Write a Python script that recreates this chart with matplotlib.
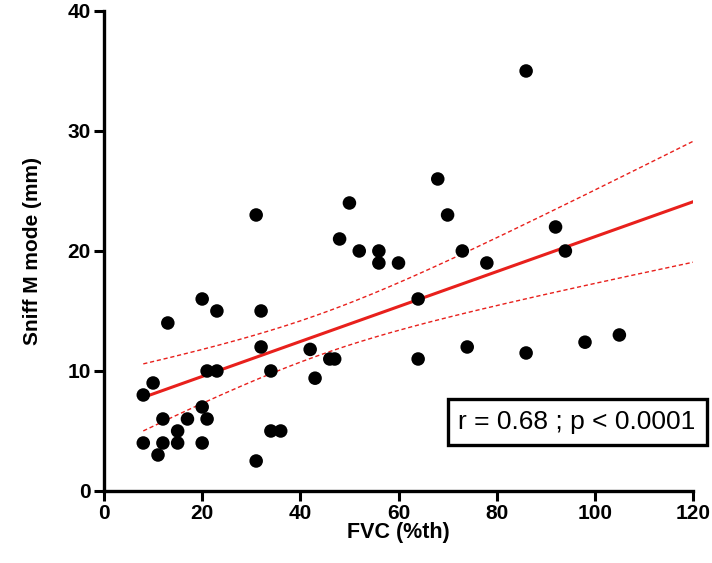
import numpy as np
import matplotlib
matplotlib.use("Agg")
import matplotlib.pyplot as plt
from matplotlib.patches import Rectangle

plt.rcParams["font.family"] = ["Liberation Sans", "DejaVu Sans"]

# FVC (% theoretical) and sniff M-mode excursion (mm)
fvc = [8, 10, 8, 11, 12, 12, 13, 15, 15, 17, 20, 20, 20, 21, 21, 23, 23,
       31, 31, 32, 32, 34, 34, 36, 42, 43, 46, 47, 48, 50, 52, 56, 56, 60,
       64, 64, 68, 70, 73, 74, 78, 86, 86, 92, 94, 98, 105]
sniff = [8, 9, 4, 3, 4, 6, 14, 5, 4, 6, 16, 7, 4, 10, 6, 15, 10,
         23, 2.5, 15, 12, 10, 5, 5, 11.8, 9.4, 11, 11, 21, 24, 20, 20, 19, 19,
         16, 11, 26, 23, 20, 12, 19, 35, 11.5, 22, 20, 12.4, 13]

# regression line as drawn in the figure (value at both ends)
fit_x = [8, 120]
fit_y = [7.8, 24.1]
stats_text = "r = 0.68 ; p < 0.0001"

x = np.asarray(fvc, dtype=float)
y = np.asarray(sniff, dtype=float)

slope = (fit_y[1] - fit_y[0]) / (fit_x[1] - fit_x[0])
intercept = fit_y[0] - slope * fit_x[0]

# 95% confidence band of the mean around that line
n = len(x)
resid = y - (slope * x + intercept)
s_err = np.sqrt(np.sum(resid ** 2) / (n - 2))
t_val = 2.014
xs = np.linspace(fit_x[0], fit_x[1], 200)
ys = slope * xs + intercept
half = t_val * s_err * np.sqrt(1 / n + (xs - x.mean()) ** 2 / np.sum((x - x.mean()) ** 2))

fig = plt.figure(figsize=(7.12, 5.63), dpi=100)
ax = fig.add_axes([0.1461, 0.1279, 0.8272, 0.8526])

red = "#e8201c"
ax.plot(xs, ys, color=red, linewidth=2.2, zorder=2)
ax.plot(xs, ys + half, color=red, linewidth=1.0, linestyle=(0, (3, 2)), zorder=2)
ax.plot(xs, ys - half, color=red, linewidth=1.0, linestyle=(0, (3, 2)), zorder=2)
ax.scatter(x, y, s=95, color="black", edgecolors="none", zorder=3)

ax.set_xlim(0, 120)
ax.set_ylim(0, 40)
ax.set_xticks(range(0, 121, 20))
ax.set_yticks(range(0, 41, 10))
for side in ("top", "right"):
    ax.spines[side].set_visible(False)
for side in ("left", "bottom"):
    ax.spines[side].set_linewidth(2.4)
ax.tick_params(direction="out", length=7.5, width=2.2, labelsize=15, pad=2)
for lab in ax.get_xticklabels() + ax.get_yticklabels():
    lab.set_fontweight("bold")

ax.set_xlabel("FVC (%th)", fontsize=15.5, fontweight="bold", labelpad=-1)
ax.set_ylabel("Sniff M mode (mm)", fontsize=15, fontweight="bold", labelpad=18)

# stats box, placed in figure coordinates (it runs past the axes' right edge)
fig.patches.append(Rectangle((0.6292, 0.2096), 0.3638, 0.0817, transform=fig.transFigure,
                             facecolor="white", edgecolor="black", linewidth=2.4))
fig.text(0.8105, 0.2504, stats_text, fontsize=19, ha="center", va="center")

fig.savefig("out.png", dpi=100)
